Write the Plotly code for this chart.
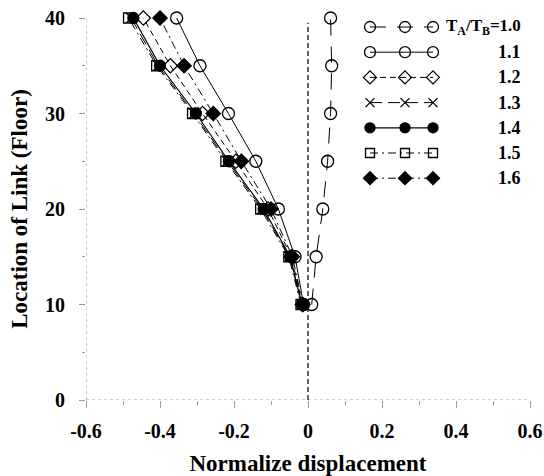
import plotly.graph_objects as go

# Link locations (floor) shared by every series
floors = [10, 15, 20, 25, 30, 35, 40]

# Normalized displacement for each period ratio T_A/T_B
ratio_labels = ["1.0", "1.1", "1.2", "1.3", "1.4", "1.5", "1.6"]
disp_10 = [0.010, 0.022, 0.040, 0.053, 0.061, 0.064, 0.061]
disp_11 = [-0.012, -0.035, -0.080, -0.141, -0.215, -0.292, -0.355]
disp_12 = [-0.015, -0.045, -0.108, -0.195, -0.285, -0.372, -0.445]
disp_13 = [-0.016, -0.050, -0.124, -0.218, -0.308, -0.405, -0.478]
disp_14 = [-0.017, -0.048, -0.120, -0.214, -0.303, -0.400, -0.472]
disp_15 = [-0.019, -0.052, -0.128, -0.222, -0.312, -0.409, -0.485]
disp_16 = [-0.014, -0.042, -0.100, -0.180, -0.256, -0.335, -0.400]
series = [disp_10, disp_11, disp_12, disp_13, disp_14, disp_15, disp_16]

x_ticks = [-0.6, -0.4, -0.2, 0, 0.2, 0.4, 0.6]
x_tick_text = ["-0.6", "-0.4", "-0.2", "0", "0.2", "0.4", "0.6"]
y_ticks = [0, 10, 20, 30, 40]

FONT = "Liberation Serif"

styles = [
    dict(symbol="circle-open", size=12, dash="16px,11px", lw=1.0),
    dict(symbol="circle-open", size=12, dash="solid", lw=1.0),
    dict(symbol="diamond-open", size=11, dash="6px,4px", lw=1.0),
    dict(symbol="x-thin-open", size=10, dash="12px,6px", lw=1.0),
    dict(symbol="circle", size=11, dash="solid", lw=1.2),
    dict(symbol="square-open", size=10, dash="8px,4px,2px,4px", lw=1.0),
    dict(symbol="diamond", size=11, dash="8px,4px,2px,4px", lw=1.0),
]

fig = go.Figure()

for vals, st in zip(series, styles):
    fig.add_trace(go.Scatter(
        x=vals, y=floors, mode="lines+markers",
        line=dict(color="black", width=st["lw"], dash=st["dash"]),
        marker=dict(symbol=st["symbol"], size=st["size"], color="black",
                    line=dict(color="black", width=1.3)),
        cliponaxis=False, showlegend=False, hoverinfo="skip",
    ))

# Hand-drawn key on a pixel-scaled overlay axis
key_x = [370, 405, 433]
for i, st in enumerate(styles):
    ry = 27 + 25.2 * i
    fig.add_trace(go.Scatter(
        x=key_x, y=[ry] * 3, mode="lines+markers", xaxis="x2", yaxis="y2",
        line=dict(color="black", width=st["lw"], dash=st["dash"]),
        marker=dict(symbol=st["symbol"], size=st["size"] - 1, color="black",
                    line=dict(color="black", width=1.3)),
        cliponaxis=False, showlegend=False, hoverinfo="skip",
    ))
    if i == 0:
        fig.add_annotation(x=444, y=ry, xref="x2", yref="y2",
                           text="T<sub>A</sub>/T<sub>B</sub>=" + ratio_labels[i],
                           xanchor="left", yanchor="middle", showarrow=False,
                           font=dict(family=FONT, size=17, color="black", weight="bold"))
    else:
        fig.add_annotation(x=523, y=ry, xref="x2", yref="y2", text=ratio_labels[i],
                           xanchor="right", yanchor="middle", showarrow=False,
                           font=dict(family=FONT, size=18, color="black", weight="bold"))

# Dotted axis lines and the dashed zero reference
fig.add_shape(type="line", x0=-0.6, x1=0.6, y0=0, y1=0, xref="x", yref="y",
              line=dict(color="#9a9a9a", width=1, dash="dot"), layer="below")
fig.add_shape(type="line", x0=-0.6, x1=-0.6, y0=0, y1=40, xref="x", yref="y",
              line=dict(color="#9a9a9a", width=1, dash="dot"), layer="below")
fig.add_shape(type="line", x0=0, x1=0, y0=0, y1=39.5, xref="x", yref="y",
              line=dict(color="black", width=1.2, dash="5px,3px"), layer="below")

fig.update_layout(
    width=544, height=476, autosize=False,
    margin=dict(l=86, r=14, t=18, b=76),
    paper_bgcolor="white", plot_bgcolor="white",
    font=dict(family=FONT, color="black"),
    xaxis=dict(
        range=[-0.6, 0.6], tickvals=x_ticks, ticktext=x_tick_text, automargin=False,
        ticks="outside", ticklen=7, tickcolor="#9a9a9a", tickwidth=1,
        minor=dict(dtick=0.1, tick0=0, ticks="outside", ticklen=4, tickcolor="#9a9a9a"),
        showgrid=False, zeroline=False, showline=False,
        tickfont=dict(family=FONT, size=20, weight="bold"), ticklabelstandoff=6,
        title=dict(text="Normalize displacement", standoff=14,
                   font=dict(family=FONT, size=23, weight="bold")),
    ),
    yaxis=dict(
        range=[0, 40], tickvals=y_ticks, automargin=False,
        ticks="outside", ticklen=6, tickcolor="#9a9a9a", tickwidth=1,
        minor=dict(dtick=5, tick0=0, ticks="outside", ticklen=3, tickcolor="#9a9a9a"),
        showgrid=False, zeroline=False, showline=False,
        tickfont=dict(family=FONT, size=20, weight="bold"), ticklabelstandoff=10,
        title=dict(text="Location of Link (Floor)", standoff=10,
                   font=dict(family=FONT, size=23, weight="bold")),
    ),
    xaxis2=dict(range=[86, 530], overlaying="x", anchor="y2", visible=False),
    yaxis2=dict(range=[400, 18], overlaying="y", anchor="x2", visible=False),
)

fig.write_html("out.html")
